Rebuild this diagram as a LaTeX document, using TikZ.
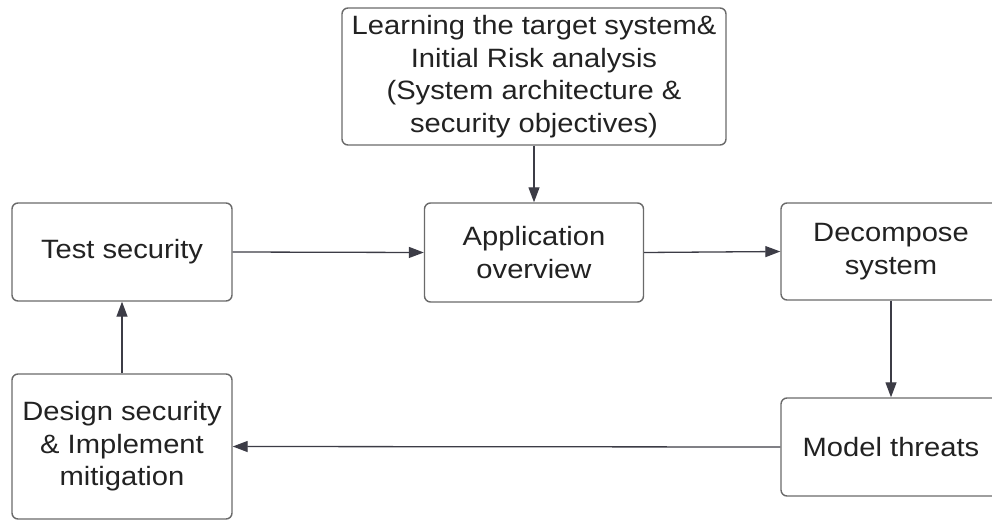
\documentclass[tikz,border=0pt]{standalone}
\usepackage{fontspec}
\setmainfont{Liberation Sans}[FakeStretch=1.1]
\usetikzlibrary{arrows.meta}
\definecolor{edge}{HTML}{6A6A6A}
\definecolor{wire}{HTML}{3C3C46}
\definecolor{ink}{HTML}{222222}
\tikzset{
  stepbox/.style={draw=edge, line width=1.4pt, rounded corners=6pt, fill=white,
    align=center, text=ink, inner sep=0pt,
    font=\fontsize{26.5}{32.5}\selectfont},
  flow/.style={draw=wire, line width=1.3pt, -{Triangle[length=15pt,width=11pt]}}
}
\begin{document}
\begin{tikzpicture}[x=1pt,y=-1pt]
  \clip (0,0) rectangle (992,521);
  \fill[white] (0,0) rectangle (992,521);

  \node[stepbox, minimum width=384pt, minimum height=137pt] (learn) at (534,76.5)
    {Learning the target system\&\\Initial Risk analysis\\(System architecture \&\\security objectives)};
  \node[stepbox, minimum width=220pt, minimum height=98pt] (test) at (122,252) {Test security};
  \node[stepbox, minimum width=219pt, minimum height=99pt] (app) at (534,252.5) {Application\\overview};
  \node[stepbox, minimum width=220pt, minimum height=97pt] (decomp) at (891,251.5) {Decompose\\system};
  \node[stepbox, minimum width=220pt, minimum height=98pt] (model) at (891,447) {Model threats};
  \node[stepbox, minimum width=220pt, minimum height=145pt] (design) at (122,446.5)
    {Design security\\\& Implement\\mitigation};

  \draw[flow] (learn.south) -- (app.north);
  \draw[flow] (test.east) -- (app.west);
  \draw[flow] (app.east) -- (decomp.west);
  \draw[flow] (decomp.south) -- (model.north);
  \draw[flow] (model.west) -- (design.east);
  \draw[flow] (design.north) -- (test.south);
\end{tikzpicture}
\end{document}
